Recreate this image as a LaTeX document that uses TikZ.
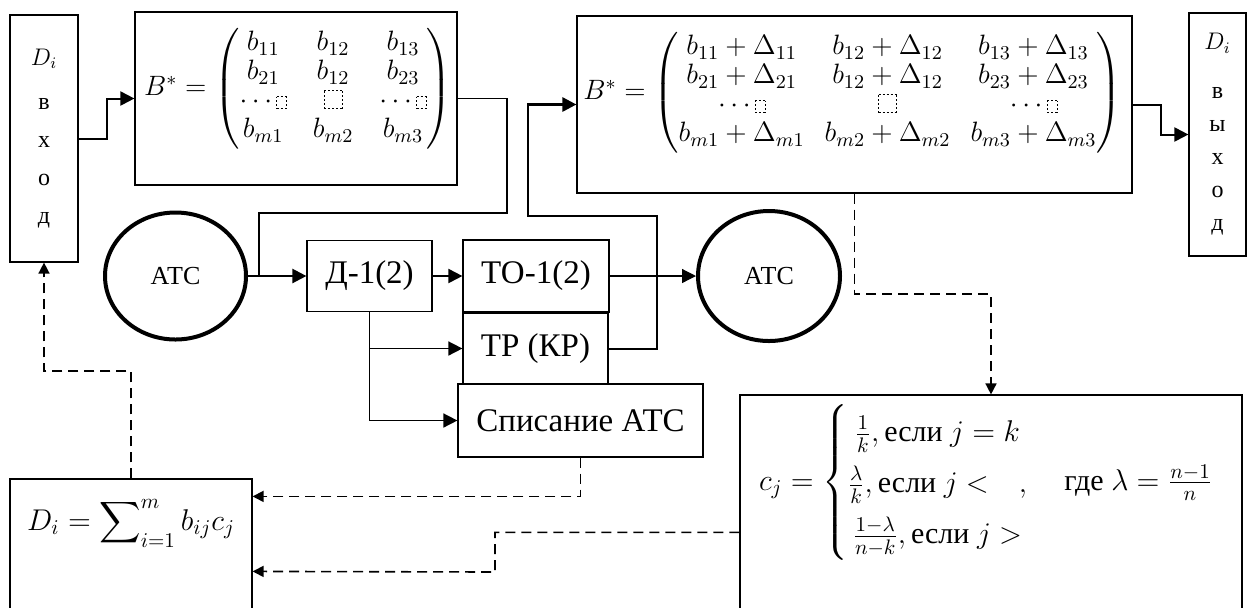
\RequirePackage{fix-cm}
\documentclass[tikz,border=0pt]{standalone}
\usepackage{amsmath}
\usepackage{fontspec}
\setmainfont{Liberation Serif}
\newfontfamily\tms{Liberation Serif}
\usetikzlibrary{positioning,shapes.geometric,arrows.meta}

% dotted placeholder square
\newcommand\dsq[2]{\mbox{\setlength\unitlength{1pt}\begin{picture}(#1,#2)\put(0,0){\dashbox{1}(#1,#2){}}\end{picture}}}

\tikzset{
  blk/.style={draw,line width=0.6pt,fill=white,inner sep=0pt},
  atc/.style={draw,ellipse,line width=2pt,inner sep=0pt,font=\tms\fontsize{13}{15}\selectfont},
  bfont/.style={font=\tms\fontsize{16.5}{20}\selectfont},
  mfont/.style={font=\tms\fontsize{14}{14.5}\selectfont},
  lnk/.style={line width=0.8pt},
  arr/.style={lnk,-{Triangle[length=7pt,width=7pt]}},
  fb/.style={line width=0.8pt,dash pattern=on 5pt off 3pt,-{Triangle[length=5.5pt,width=5.5pt]}},
}

\begin{document}
\begin{tikzpicture}[x=0.5pt,y=-0.5pt]
\useasboundingbox (0,0) rectangle (1247,607);
% input and output columns
\node[blk,minimum width=34pt,minimum height=123.5pt,align=center,font=\tms\fontsize{12}{19}\selectfont] (in) at (44,138.5) {$D_i$\\[3pt]в\\х\\о\\д};
\node[blk,minimum width=28.5pt,minimum height=121.5pt,align=center,font=\tms\fontsize{12}{16.5}\selectfont] (out) at (1217.5,134.5) {$D_i$\\[8pt]в\\ы\\х\\о\\д};
% matrices
\node[blk,minimum width=161pt,minimum height=86.5pt] (mat1) at (296,98.5) {};
\node[mfont,yshift=5pt,xshift=1pt] (f1) at (mat1) {\setlength\arraycolsep{6.5pt}$B^*=\begin{pmatrix} b_{11} & b_{12} & b_{13}\\ b_{21} & b_{12} & b_{23}\\ \cdots\dsq{5}{6} & \dsq{9}{9} & \cdots\dsq{5}{6}\\ b_{m1} & b_{m2} & b_{m3}\end{pmatrix}$};
\node[blk,minimum width=277.5pt,minimum height=88.5pt] (mat2) at (854.5,104.5) {};
\node[mfont,yshift=6pt,xshift=-1pt] (f2) at (mat2) {\setlength\arraycolsep{5pt}$B^*=\begin{pmatrix} b_{11}+\Delta_{11} & b_{12}+\Delta_{12} & b_{13}+\Delta_{13}\\ b_{21}+\Delta_{21} & b_{12}+\Delta_{12} & b_{23}+\Delta_{23}\\ \cdots\dsq{5}{6} & \dsq{9}{9} & \cdots\dsq{5}{6}\\ b_{m1}+\Delta_{m1} & b_{m2}+\Delta_{m2} & b_{m3}+\Delta_{m3}\end{pmatrix}$};
% process
\node[atc,minimum width=70.5pt,minimum height=63.5pt] (atc1) at (175.5,276) {АТС};
\node[blk,bfont,minimum width=62.5pt,minimum height=35.5pt] (d12) at (369.5,276) {Д-1(2)};
\node[blk,bfont,minimum width=73pt,minimum height=36pt] (to12) at (536,276) {ТО-1(2)};
\node[blk,bfont,minimum width=72.5pt,minimum height=35.5pt] (tp) at (535.5,348.5) {ТР (КР)};
\node[blk,bfont,minimum width=122.5pt,minimum height=36.5pt] (spis) at (580.5,420.5) {Списание АТС};
\node[atc,minimum width=71pt,minimum height=65pt] (atc2) at (769,276) {АТС};
% evaluation
\node[blk,minimum width=121pt,minimum height=70.5pt] (sum) at (131,549.5) {};
\node[font=\tms\fontsize{15}{18}\selectfont] (f3) at (131,523) {$\displaystyle D_i=\sum\nolimits_{i=1}^{m} b_{ij}c_j$};
\node[blk,minimum width=251pt,minimum height=112.5pt] (cj) at (991,507.5) {};
\node[anchor=base west,font=\tms\fontsize{15}{17}\selectfont] (f4) at (752,490) {$c_j=\left\{\renewcommand\arraystretch{1.5}\begin{array}{@{}c@{}}\tfrac{1}{k},\text{если } j=k\\ \tfrac{\lambda}{k},\text{если } j<\quad,\\ \tfrac{1-\lambda}{n-k},\text{если } j>\end{array}\right.\quad\text{где } \lambda=\tfrac{n-1}{n}$};
% solid links
\coordinate (j1) at (259,276);
\coordinate (j2) at (657,276);
\draw[arr,line width=1pt] (in.east) -- ++(28,0) |- (mat1.west);
\draw[lnk] (mat1.east) -| (507,213) -| (j1);
\draw[arr,line width=1.2pt] (atc1) -- (d12);
\draw[arr,line width=1pt] (d12) -- (to12);
\draw[arr] (d12.south) |- (tp);
\draw[arr] (d12.south) |- (spis);
\draw[lnk,line width=1pt] (to12) -- (j2);
\draw[lnk,line width=1pt] (tp) -| (j2);
\draw[arr,line width=0.6pt] (j2) -- (atc2);
\draw[arr,line width=1.4pt] (j2) |- (528,216) |- (mat2);
\draw[arr,line width=1pt] (mat2.east) -- ++(28,0) |- (out.west);
% dashed links
\draw[fb] (mat2.south) |- (991,294) -- (cj.north);
\draw[fb] (spis.south) |- ([yshift=-9pt]sum.north east);
\draw[fb] ([yshift=-69pt]cj.north west) -| (495,572) -- ([yshift=-46.5pt]sum.north east);
\draw[fb] (sum.north) |- (44,371) -- (in.south);
\end{tikzpicture}
\end{document}
